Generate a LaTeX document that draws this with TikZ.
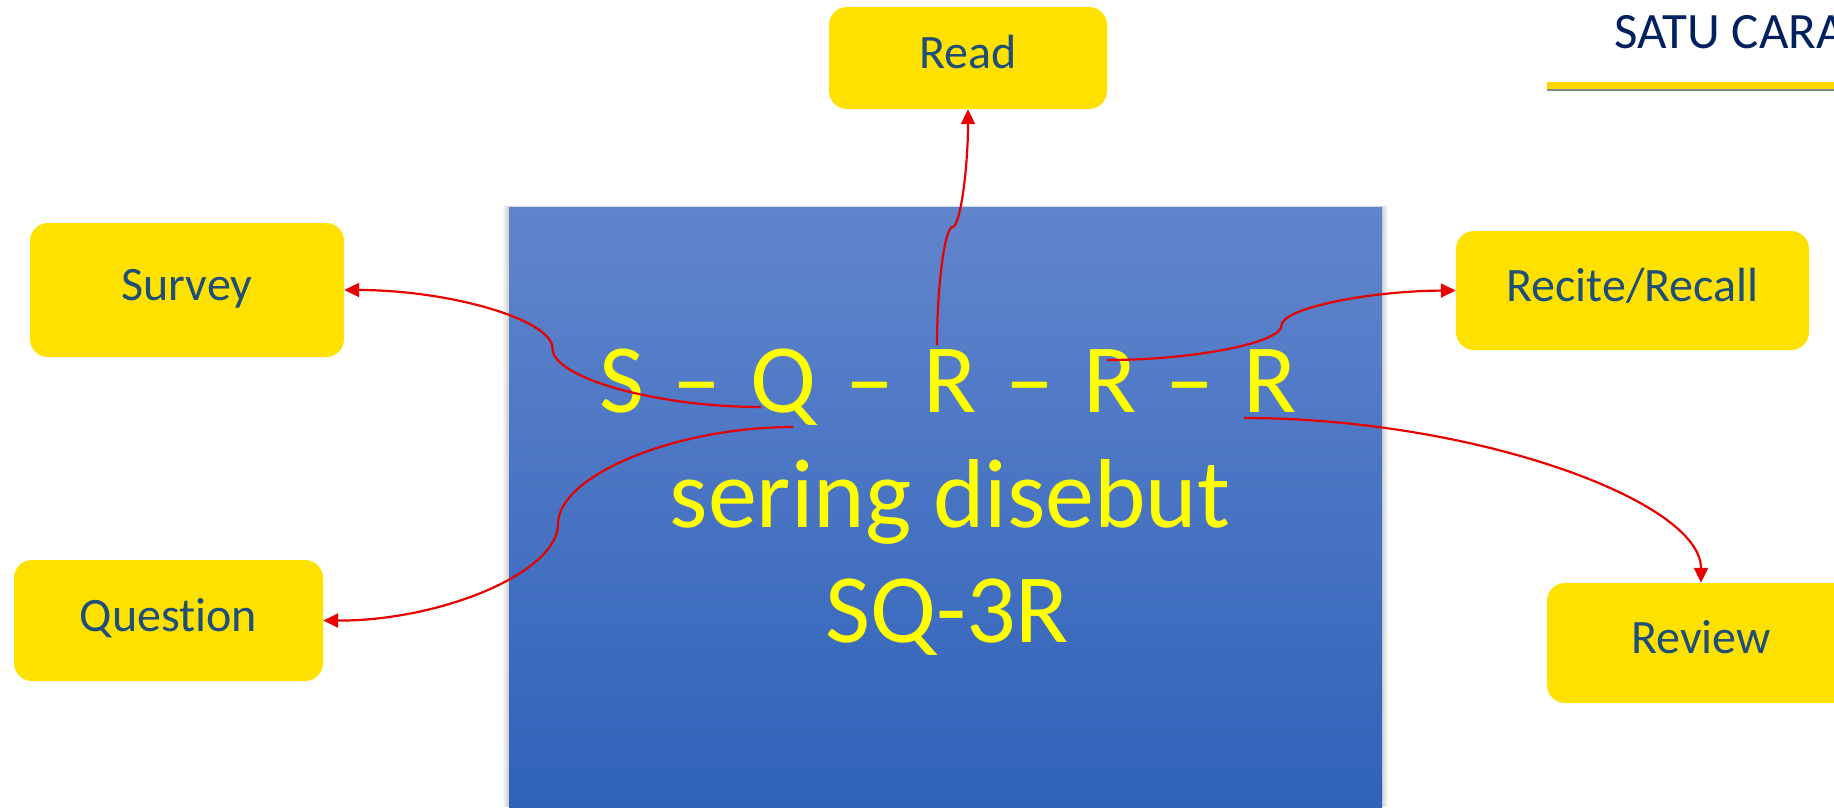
\documentclass[tikz,border=0pt]{standalone}
\usepackage{fontspec}
\setmainfont{Carlito}[Ligatures=NoCommon]
\usetikzlibrary{arrows.meta}
\definecolor{boxyellow}{HTML}{FFE100}
\definecolor{boxtext}{HTML}{1F4E79}
\definecolor{titlenavy}{HTML}{002060}
\definecolor{arrowred}{RGB}{230,0,0}
\definecolor{bluetop}{HTML}{6185CC}
\definecolor{bluebot}{HTML}{2F62B9}
\definecolor{txtyellow}{HTML}{FFFF00}
\definecolor{baryellow}{HTML}{FFD500}
\definecolor{barline}{HTML}{7D8A80}
\begin{document}
\begin{tikzpicture}[x=1pt,y=-1pt,
  ybox/.style={fill=boxyellow, rounded corners=18pt, text=boxtext,
    font=\fontsize{48}{58}\selectfont, text height=31pt, text depth=10pt,
    inner sep=0pt, align=center},
  bigtext/.style={text=txtyellow, font=\fontsize{98}{115}\selectfont, inner sep=0pt, anchor=base},
  conn/.style={draw=arrowred, line width=2.2pt, -{Triangle[length=15pt,width=14pt]}}]
\useasboundingbox (0,0) rectangle (1834,807);
\clip (0,0) rectangle (1834,807);
% title
\node[anchor=base west, inner sep=0pt, text=titlenavy, font=\fontsize{51}{60}\selectfont] (title) at (1614,48) {SATU CARA};
\fill[baryellow] (1547,82) rectangle (1834,89);
\fill[barline] (1547,89) rectangle (1834,91);
% blue panel with soft shadow
\foreach \i in {1,...,6}{
  \fill[black, opacity=0.03] (509-\i,207-\i*0.3) rectangle (1382+\i,807);
}
\shade[top color=bluetop, bottom color=bluebot] (509,207) rectangle (1382,807);
\node[bigtext] (sq) at (948,412) {\spaceskip=29pt\relax S – Q – R – R – R};
\node[bigtext] (sd) at (950,527) {sering disebut};
\node[bigtext] (sq3r) at (947,642) {SQ-3R};
% boxes
\node[ybox, minimum width=278pt, minimum height=102pt] (read) at (968,58) {Read};
\node[ybox, minimum width=314pt, minimum height=134pt] (survey) at (187,290) {Survey};
\node[ybox, minimum width=353pt, minimum height=119pt] (recite) at (1632.5,290.5) {Recite/Recall};
\node[ybox, minimum width=309pt, minimum height=121pt] (question) at (168.5,620.5) {Question};
\node[ybox, minimum width=308pt, minimum height=120pt] (review) at (1701,643) {Review};
% connector start points
\coordinate (sS) at (761,407);
\coordinate (sQ) at (793,427);
\coordinate (sR1) at (937,345);
\coordinate (sR2) at (1107,360);
\coordinate (sR3) at (1244,418);
% connectors
\draw[conn] (sS) .. controls (656.75,407) and (552.5,377.75) .. (552.5,348.5)
  .. controls (552.5,319.25) and (448.25,290) .. (survey.east);
\draw[conn] (sQ) .. controls (675.5,427) and (558,475.5) .. (558,524)
  .. controls (558,572.5) and (440.5,621) .. (question.east);
\draw[conn] (sR1) .. controls (937,286) and (944.75,227) .. (952.5,227)
  .. controls (960.25,227) and (968,168) .. (read.south);
\draw[conn] (sR2) .. controls (1194.25,360) and (1281.5,342.75) .. (1281.5,325.5)
  .. controls (1281.5,308.25) and (1368.75,291) .. (recite.west);
\draw[conn] (sR3) .. controls (1472.5,418) and (1701,500.5) .. (review.north);
\end{tikzpicture}
\end{document}
